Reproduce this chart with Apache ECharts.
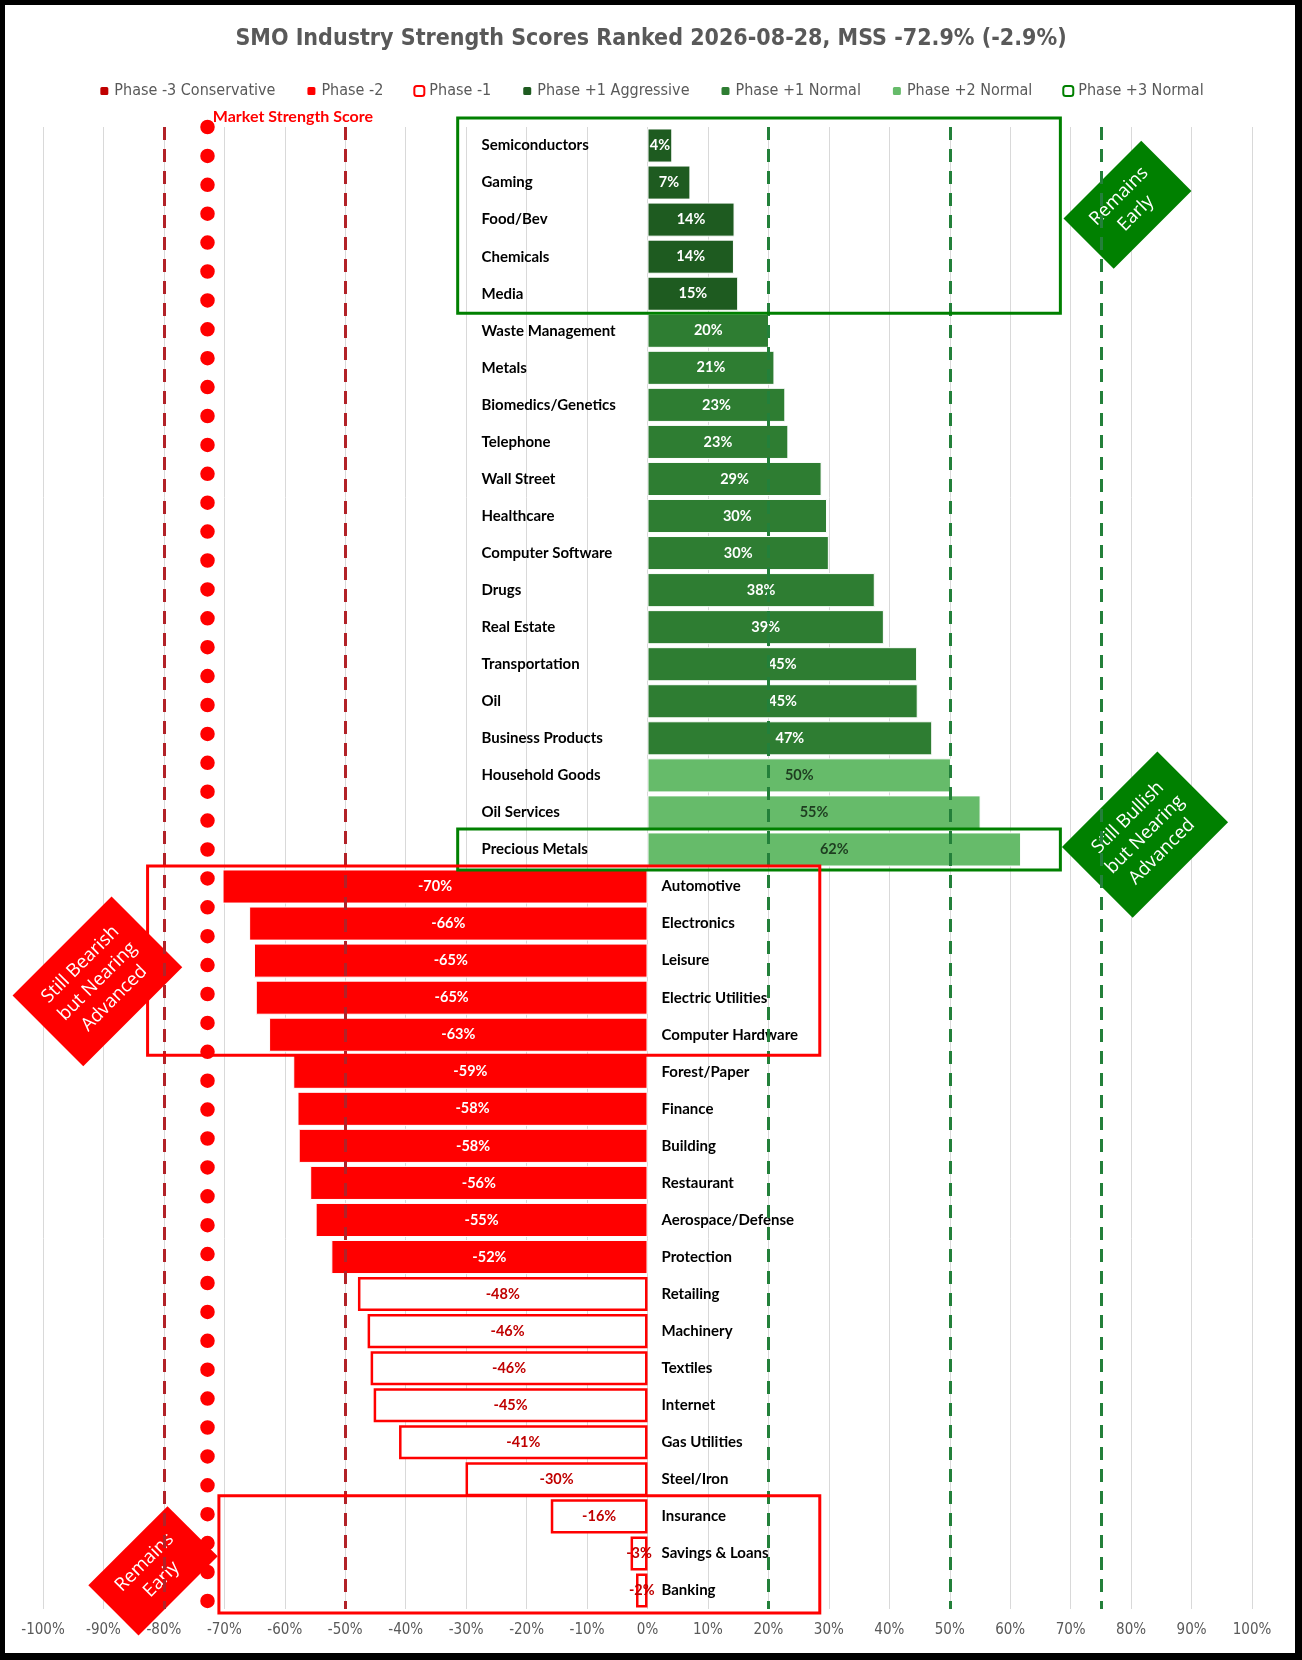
<!DOCTYPE html>
<html>
<head>
<meta charset="UTF-8">
<title>SMO Industry Strength Scores</title>
<style>
  html, body { margin: 0; padding: 0; background: #fff; }
  #main { width: 1302px; height: 1660px; }
  #frame { position: absolute; left: 0; top: 0; width: 1302px; height: 1660px; box-sizing: border-box;
           border-style: solid; border-color: #000; border-width: 5px 7px 7px 5px; pointer-events: none; }
</style>
</head>
<body>
<div id="main"></div>
<div id="frame"></div>
<script src="https://cdn.jsdelivr.net/npm/echarts@6/dist/echarts.min.js"></script>
<script type="text/javascript">
// industries, ranked top to bottom
var categories = ['Semiconductors', 'Gaming', 'Food/Bev', 'Chemicals', 'Media',
    'Waste Management', 'Metals', 'Biomedics/Genetics', 'Telephone', 'Wall Street',
    'Healthcare', 'Computer Software', 'Drugs', 'Real Estate', 'Transportation',
    'Oil', 'Business Products', 'Household Goods', 'Oil Services', 'Precious Metals',
    'Automotive', 'Electronics', 'Leisure', 'Electric Utilities', 'Computer Hardware',
    'Forest/Paper', 'Finance', 'Building', 'Restaurant', 'Aerospace/Defense',
    'Protection', 'Retailing', 'Machinery', 'Textiles', 'Internet',
    'Gas Utilities', 'Steel/Iron', 'Insurance', 'Savings & Loans', 'Banking'];
// strength score in %
var scores = [4.1, 7.1, 14.4, 14.3, 15.0,
    20.1, 21.0, 22.8, 23.3, 28.8,
    29.7, 30.0, 37.6, 39.1, 44.6,
    44.7, 47.1, 50.2, 55.1, 61.8,
    -70.3, -65.9, -65.1, -64.8, -62.6,
    -58.6, -57.9, -57.7, -55.8, -54.9,
    -52.3, -47.9, -46.3, -45.8, -45.3,
    -41.1, -30.1, -16.0, -2.8, -1.9];
// phase of each industry
var phases = ['p1a', 'p1a', 'p1a', 'p1a', 'p1a',
    'p1n', 'p1n', 'p1n', 'p1n', 'p1n',
    'p1n', 'p1n', 'p1n', 'p1n', 'p1n',
    'p1n', 'p1n', 'p2n', 'p2n', 'p2n',
    'm2', 'm2', 'm2', 'm2', 'm2',
    'm2', 'm2', 'm2', 'm2', 'm2',
    'm2', 'm1', 'm1', 'm1', 'm1',
    'm1', 'm1', 'm1', 'm1', 'm1'];
var phaseKeys = ['m3c', 'm2', 'm1', 'p1a', 'p1n', 'p2n', 'p3n'];
var phaseNames = ['Phase -3 Conservative', 'Phase -2', 'Phase -1', 'Phase +1 Aggressive',
    'Phase +1 Normal', 'Phase +2 Normal', 'Phase +3 Normal'];
var mss = -72.9;
var bearLines = [-80, -50];
var bullLines = [20, 50, 75];
var xTicks = { min: -100, max: 100, step: 10 };

var phaseStyle = {
    m3c: { color: '#C00000', border: '#fff', bw: 1, label: '#fff' },
    m2:  { color: '#FF0000', border: '#fff', bw: 1, label: '#fff' },
    m1:  { color: '#fff', border: '#FF0000', bw: 2.5, label: '#C00000' },
    p1a: { color: '#1E5B20', border: '#fff', bw: 1, label: '#fff' },
    p1n: { color: '#2E7D32', border: '#fff', bw: 1, label: '#fff' },
    p2n: { color: '#66BB6A', border: '#fff', bw: 1, label: '#1E3D20' },
    p3n: { color: '#fff', border: '#008000', bw: 2.5, label: '#008000' }
};

var narrow = "'Liberation Sans Narrow', 'DejaVu Sans Condensed', Roboto, sans-serif";
var FONT = 'Lato, Roboto, sans-serif';

var series = phaseKeys.map(function (k, n) {
    var st = phaseStyle[k];
    return {
        name: phaseNames[n],
        type: 'bar',
        barGap: '-100%',
        barCategoryGap: '8%',
        z: 2,
        itemStyle: { color: st.color, borderColor: st.border, borderWidth: st.bw },
        label: {
            show: true, position: 'inside', color: st.label,
            fontFamily: FONT, fontWeight: 'bold', fontSize: 14.5,
            formatter: function (p) { return Math.round(p.value) + '%'; }
        },
        data: scores.map(function (v, i) { return phases[i] === k ? v : '-'; })
    };
});

// category names next to the zero line
series.push({
    name: 'names',
    type: 'custom',
    z: 3,
    silent: true,
    encode: { x: 0, y: 1 },
    data: scores.map(function (v, i) { return [v, i]; }),
    renderItem: function (params, api) {
        var v = api.value(0), i = api.value(1);
        var p = api.coord([0, i]);
        return {
            type: 'text',
            x: v >= 0 ? p[0] - 166 : p[0] + 14,
            y: p[1],
            style: {
                text: categories[i], fill: '#000', align: 'left', verticalAlign: 'middle',
                fontFamily: FONT, fontWeight: 'bold', fontSize: 15
            }
        };
    }
});

// threshold lines and MSS dotted line
var lines = [];
bearLines.forEach(function (x) {
    lines.push({ xAxis: x, lineStyle: { color: '#B22228', width: 3, type: [13, 9] } });
});
bullLines.forEach(function (x) {
    lines.push({ xAxis: x, lineStyle: { color: '#23803A', width: 3, type: [13, 9] } });
});
lines.push({ xAxis: mss, lineStyle: { color: '#FF0000', width: 14.5, type: [0, 28.9], cap: 'round' } });

series.push({
    name: 'lines',
    type: 'line',
    z: 5,
    data: [],
    markLine: {
        silent: true, symbol: 'none', animation: false,
        label: { show: false },
        data: lines
    }
});

var option = {
    animation: false,
    backgroundColor: '#fff',
    title: {
        text: 'SMO Industry Strength Scores Ranked 2026-08-28, MSS -72.9% (-2.9%)',
        left: 'center', top: 23,
        textStyle: { color: '#595959', fontSize: 23, fontWeight: 'bold', fontFamily: narrow }
    },
    legend: {
        data: phaseNames,
        top: 78, left: 'center',
        itemWidth: 10, itemHeight: 10, itemGap: 30,
        textStyle: { color: '#595959', fontSize: 16, fontFamily: narrow }
    },
    grid: { left: 43, right: 50, top: 127, bottom: 51, containLabel: false },
    xAxis: {
        type: 'value',
        min: xTicks.min, max: xTicks.max, interval: xTicks.step,
        axisLine: { show: false }, axisTick: { show: false },
        splitLine: { lineStyle: { color: '#D9D9D9', width: 1 } },
        axisLabel: { formatter: '{value}%', color: '#595959', fontSize: 15, margin: 14, fontFamily: narrow }
    },
    yAxis: {
        type: 'category', inverse: true, data: categories,
        axisLine: { show: false }, axisTick: { show: false }, axisLabel: { show: false },
        splitLine: { show: false }
    },
    series: series
};

var myChart = echarts.init(document.getElementById('main'));
myChart.setOption(option);

// annotation boxes and diamond callouts placed through the chart's scales
function px(x, row) {
    return myChart.convertToPixel({ xAxisIndex: 0, yAxisIndex: 0 }, [x, row]);
}
var row0 = px(0, 0)[1];
var band = px(0, 1)[1] - row0;
function rowY(r) { return row0 + r * band; }
function colX(x) { return px(x, 0)[0]; }

function box(x0, x1, r0, r1, color, padTop, padBottom) {
    var y0 = rowY(r0) - band / 2 - padTop, y1 = rowY(r1) + band / 2 + padBottom;
    var a = colX(x0), b = colX(x1);
    return {
        type: 'rect', z: 20, silent: true,
        shape: { x: a, y: y0, width: b - a, height: y1 - y0 },
        style: { fill: 'none', stroke: color, lineWidth: 3 }
    };
}
function callout(x, row, w, h, color, text) {
    return {
        type: 'group', x: colX(x), y: rowY(row), rotation: Math.PI / 4, z: 30, silent: true,
        children: [
            { type: 'rect', shape: { x: -w / 2, y: -h / 2, width: w, height: h }, style: { fill: color } },
            { type: 'text', style: { text: text, x: 0, y: 0, align: 'center', verticalAlign: 'middle',
                fill: '#fff', fontSize: 18.5, lineHeight: 24, fontFamily: "'Open Sans', sans-serif" } }
        ]
    };
}
myChart.setOption({
    graphic: [
        box(-31.4, 68.3, 0, 4, '#008000', 9, 1),
        box(-31.4, 68.3, 19, 19, '#008000', 2, 2),
        box(-82.7, 28.5, 20, 24, '#FF0000', 2, 2),
        box(-70.9, 28.5, 37, 39, '#FF0000', 2, 4),
        callout(79.4, 1.6, 110, 71, '#008000', 'Remains\nEarly'),
        callout(82.3, 18.6, 135, 100, '#008000', 'Still Bullish\nbut Nearing\nAdvanced'),
        callout(-91.0, 22.56, 140, 100, '#FF0000', 'Still Bearish\nbut Nearing\nAdvanced'),
        callout(-81.8, 38.47, 112, 71, '#FF0000', 'Remains\nEarly'),
        {
            type: 'text', z: 25, silent: true,
            x: colX(mss) + 6, y: 117,
            style: { text: 'Market Strength Score', fill: '#FF0000', align: 'left', verticalAlign: 'middle',
                fontFamily: FONT, fontWeight: 'bold', fontSize: 16 }
        }
    ]
});
</script>
</body>
</html>
